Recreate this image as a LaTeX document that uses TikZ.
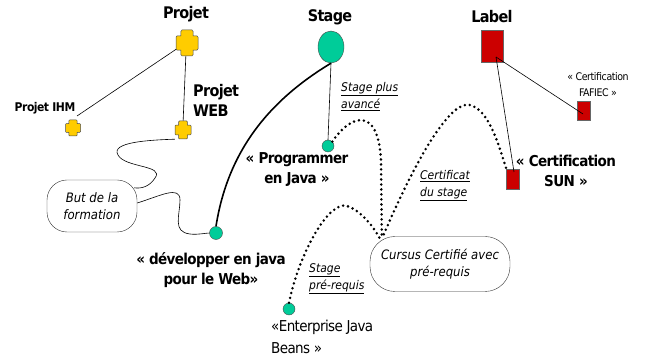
\documentclass[tikz,border=0pt]{standalone}
\usepackage{fontspec}
\setmainfont{DejaVu Sans Condensed}
\newfontfamily\tightfont{DejaVu Sans Condensed}[LetterSpace=-4]
\usetikzlibrary{shapes.geometric,calc}
\definecolor{projyellow}{HTML}{FFCC00}
\definecolor{stgreen}{HTML}{00CC99}
\definecolor{lblred}{HTML}{CC0000}
\tikzset{
  title/.style={font=\tightfont\bfseries\fontsize{16}{18}\selectfont, inner sep=0},
  boldlbl/.style={font=\tightfont\bfseries\fontsize{15}{20}\selectfont, inner sep=0, align=center},
  ulbl/.style={font=\itshape\fontsize{12}{17}\selectfont, inner sep=0, align=left, anchor=north west},
  greennode/.style={circle, fill=stgreen, draw=black!70, inner sep=0, minimum size=13pt},
  redbox/.style={rectangle, fill=lblred, draw=black!60, inner sep=0},
  bubble/.style={rectangle, draw=black!80, fill=white, align=center, font=\itshape\fontsize{13}{17}\selectfont},
  dotline/.style={line width=2.8pt, line cap=round, dash pattern=on 0pt off 5pt},
  wavy/.style={black, line width=0.6pt},
  thin/.style={black, line width=0.6pt}
}
\newcommand\plusnode[5]{%
  \node[inner sep=0, minimum width=#4pt, minimum height=#5pt] (#1) at (#2,#3) {};
  \filldraw[fill=projyellow, draw=black!70, line width=0.5pt, shift={(#2,#3)}, xscale=#4/2, yscale=#5/2]
    (-1,-0.45) -- (-0.9,-0.55) -- (-0.55,-0.55) -- (-0.55,-0.9) -- (-0.45,-1) -- (0.45,-1) -- (0.55,-0.9) -- (0.55,-0.55)
    -- (0.9,-0.55) -- (1,-0.45) -- (1,0.45) -- (0.9,0.55) -- (0.55,0.55) -- (0.55,0.9) -- (0.45,1) -- (-0.45,1)
    -- (-0.55,0.9) -- (-0.55,0.55) -- (-0.9,0.55) -- (-1,0.45) -- cycle;
}
\begin{document}
\begin{tikzpicture}[x=1pt,y=-1pt]
\useasboundingbox (0,0) rectangle (648,363);

% ---- Projet group
\node[title] (tprojet) at (186,14) {Projet};
\node[title, font=\tightfont\bfseries\fontsize{12}{13}\selectfont] (tihm) at (45,108) {Projet IHM};
\node[title, align=left, anchor=north west, font=\tightfont\bfseries\fontsize{16}{20}\selectfont] (tweb) at (193,84) {Projet\\WEB};
\draw[thin] (178,48) -- (77,116);
\draw[thin] (186,52) -- (183,124);
\plusnode{projet}{187}{43}{22}{26}
\plusnode{ihm}{73}{128}{15}{16}
\plusnode{web}{183}{130}{16}{18}

% ---- But de la formation
\node[bubble, minimum width=90pt, minimum height=52pt, rounded corners=20pt] (but) at (92,206) {But de la\\formation};
\draw[wavy] (web.south west) .. controls (150,140) and (110,142) .. (118,155)
   .. controls (125,168) and (165,165) .. (155,178) .. controls (150,186) and (142,189) .. ($(but.north east)+(-3,8)$);
\draw[wavy] ($(but.east)+(0,-3)$) .. controls (160,196) and (180,185) .. (180,200)
   .. controls (180,215) and (172,232) .. (190,234) .. controls (198,235) and (205,233) .. (210,233);

% ---- Stage group
\node[title] (tstage) at (330,17) {Stage};
\node[ellipse, fill=stgreen, draw=black!70, minimum width=26pt, minimum height=32pt, inner sep=0] (stage) at (331,47) {};
\node[greennode] (dev) at (216,233) {};
\node[greennode, minimum size=12pt] (prog) at (328,146) {};
\node[greennode, minimum size=12pt] (ejb) at (289,309) {};
\draw[line width=1.6pt] (stage.south) .. controls (270,100) and (228,150) .. (dev.north);
\draw[thin] (stage.south) -- (prog.north);

\node[boldlbl] (tprog) at (297,170) {« Programmer\\en Java »};
\node[boldlbl] (tdev) at (211,270) {« développer en java\\pour le Web»};
\node[inner sep=0, align=left, anchor=north west, font=\tightfont\fontsize{15}{22}\selectfont] (tejb) at (271,320) {«Enterprise Java\\Beans  »};

% ---- Cursus
\node[bubble, minimum width=140pt, minimum height=55pt, rounded corners=25pt] (cursus) at (440,264) {Cursus Certifié avec\\pré-requis};

% ---- Label group
\node[title] (tlabel) at (492,17) {Label};
\node[redbox, minimum width=22pt, minimum height=32pt] (label) at (492,46) {};
\node[redbox, minimum width=13pt, minimum height=19pt] (fafiec) at (584,111) {};
\node[redbox, minimum width=13pt, minimum height=20pt] (sun) at (513,179) {};
\draw[thin] ($(label.center)+(4,11)$) -- ($(fafiec.center)+(-1,3)$);
\draw[thin] ($(label.center)+(4,11)$) -- ($(sun.center)+(1,-7)$);
\node[inner sep=0, align=center, font=\tightfont\fontsize{10.5}{16}\selectfont] (tfafiec) at (598,85) {« Certification\\FAFIEC »};
\node[boldlbl] (tsun) at (566,171) {« Certification\\SUN »};

% ---- dotted connections
\draw[dotline] (prog.north east) .. controls (350,115) and (378,105) .. (381,160) -- ($(cursus.north west)+(12,0)$);
\draw[dotline] ($(cursus.north west)+(14,-2)$) .. controls (420,150) and (452,100) .. (470,105)
   .. controls (490,110) and (500,150) .. (sun.north west);
\draw[dotline] (ejb.north) .. controls (300,250) and (330,200) .. (347,206) .. controls (362,211) and (374,228) .. ($(cursus.north west)+(10,2)$);

% ---- underlined labels
\node[ulbl] (lplus) at (341,82) {\underline{Stage plus}\\\underline{avancé}};
\node[ulbl] (lcert) at (420,170) {\underline{Certificat}\\\underline{du stage}};
\node[ulbl] (lpre) at (309,263) {\underline{Stage}\\\underline{pré-requis}};
\end{tikzpicture}
\end{document}
